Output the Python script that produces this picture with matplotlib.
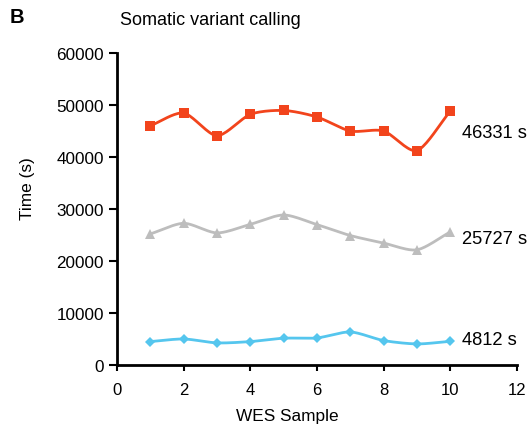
import numpy as np
import matplotlib
matplotlib.use("Agg")
import matplotlib.pyplot as plt

plt.rcParams['font.family'] = ['Liberation Sans', 'DejaVu Sans']

samples = [1, 2, 3, 4, 5, 6, 7, 8, 9, 10]
series_red = [46000, 48450, 44100, 48200, 48950, 47700, 45000, 45000, 41250, 48850]
series_gray = [25200, 27250, 25400, 27050, 28850, 27000, 24900, 23450, 22150, 25600]
series_blue = [4500, 5000, 4250, 4500, 5150, 5200, 6350, 4700, 4050, 4550]
mean_labels = ["46331 s", "25727 s", "4812 s"]
mean_values = [46331, 25727, 4812]

x_ticks = [0, 2, 4, 6, 8, 10, 12]
y_ticks = [0, 10000, 20000, 30000, 40000, 50000, 60000]


def smooth(x, y, n=20):
    """Catmull-Rom curve through the points (Excel-style smoothed line)."""
    x = np.asarray(x, float)
    y = np.asarray(y, float)
    px = np.concatenate([[2 * x[0] - x[1]], x, [2 * x[-1] - x[-2]]])
    py = np.concatenate([[2 * y[0] - y[1]], y, [2 * y[-1] - y[-2]]])
    xs, ys = [], []
    t = np.linspace(0, 1, n, endpoint=False)
    for i in range(1, len(px) - 2):
        for arr, out in ((px, xs), (py, ys)):
            p0, p1, p2, p3 = arr[i - 1], arr[i], arr[i + 1], arr[i + 2]
            m1 = (p2 - p0) / 2 * 0.8
            m2 = (p3 - p1) / 2 * 0.8
            h00 = 2 * t**3 - 3 * t**2 + 1
            h10 = t**3 - 2 * t**2 + t
            h01 = -2 * t**3 + 3 * t**2
            h11 = t**3 - t**2
            out.extend(h00 * p1 + h10 * m1 + h01 * p2 + h11 * m2)
    xs.append(x[-1])
    ys.append(y[-1])
    return np.array(xs), np.array(ys)


fig = plt.figure(figsize=(5.31, 4.27), dpi=100)
ax = fig.add_axes([0.2203, 0.1429, 0.7533, 0.7306])

styles = [
    (series_red, '#F2441C', 's', 7),
    (series_gray, '#BDBDBD', '^', 7.5),
    (series_blue, '#55C6EE', 'D', 5.5),
]
for vals, color, marker, ms in styles:
    sx, sy = smooth(samples, vals)
    ax.plot(sx, sy, color=color, lw=2, zorder=2, clip_on=False)
    ax.plot(samples, vals, linestyle='none', marker=marker, ms=ms,
            color=color, markeredgewidth=0, zorder=3, clip_on=False)

offsets = [-6, -5, 0.5]
for lab, val, off in zip(mean_labels, mean_values, offsets):
    ax.annotate(lab, xy=(10.35, val), xytext=(0, off), textcoords='offset points',
                ha='left', va='center', fontsize=13.2, annotation_clip=False)

ax.set_xlim(0, 12)
ax.set_ylim(0, 60000)
ax.set_xticks(x_ticks)
ax.set_yticks(y_ticks)
ax.tick_params(axis='x', labelsize=12, direction='out', length=4, width=1.5, pad=8)
ax.tick_params(axis='y', labelsize=12.3, direction='out', length=6, width=1.5, pad=3.5)
for side in ('top', 'right'):
    ax.spines[side].set_visible(False)
for side in ('left', 'bottom'):
    ax.spines[side].set_linewidth(2)

ax.set_xlabel('WES Sample', fontsize=12.4, va='center')
ax.xaxis.set_label_coords((287 - 117) / 400, -(417 - 366) / 312)
ax.set_ylabel('Time (s)', fontsize=12.4, va='center')
ax.yaxis.set_label_coords(-(117 - 28) / 400, (366 - 189) / 312)

fig.text(0.019, 0.960, 'B', fontsize=14.5, fontweight='bold', va='center', ha='left')
fig.text(0.226, 0.953, 'Somatic variant calling', fontsize=13, va='center', ha='left')

fig.savefig('out.png', dpi=100)
